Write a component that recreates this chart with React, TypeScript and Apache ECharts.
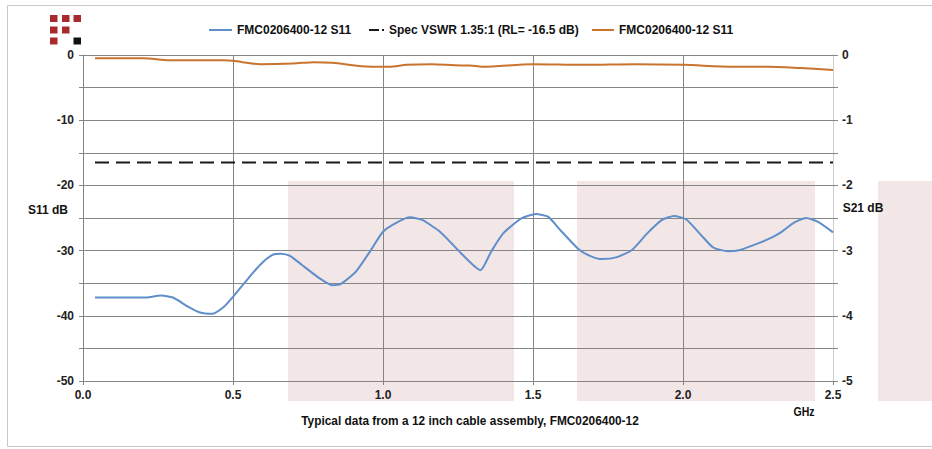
import React, { useEffect, useRef } from "react";
import * as echarts from "echarts";

const freqS11 = [0.04, 0.1, 0.21, 0.26, 0.3, 0.35, 0.39, 0.43, 0.47, 0.5, 0.55, 0.59, 0.63, 0.66, 0.69, 0.73, 0.79, 0.83, 0.86, 0.91, 0.96, 1.0, 1.05, 1.09, 1.13, 1.19, 1.26, 1.3, 1.325, 1.36, 1.4, 1.46, 1.51, 1.55, 1.59, 1.65, 1.69, 1.73, 1.78, 1.83, 1.88, 1.93, 1.97, 2.01, 2.06, 2.1, 2.15, 2.19, 2.25, 2.3, 2.33, 2.37, 2.41, 2.45, 2.5];
const s11 = [-37.2, -37.2, -37.2, -36.9, -37.2, -38.6, -39.5, -39.7, -38.6, -37.1, -34.3, -32.2, -30.7, -30.5, -30.8, -32.2, -34.3, -35.3, -35.1, -33.2, -29.9, -27.1, -25.6, -24.9, -25.3, -27.1, -30.4, -32.2, -33.0, -30.2, -27.4, -25.1, -24.4, -24.8, -26.8, -29.7, -30.8, -31.3, -31.0, -29.9, -27.4, -25.3, -24.7, -25.2, -27.6, -29.5, -30.1, -29.9, -28.9, -27.9, -27.1, -25.7, -25.0, -25.6, -27.2];

const freqS21 = [0.04, 0.2, 0.29, 0.47, 0.5, 0.59, 0.7, 0.77, 0.83, 0.96, 1.02, 1.08, 1.16, 1.26, 1.29, 1.33, 1.5, 1.67, 1.84, 2.0, 2.17, 2.28, 2.39, 2.5];
const s21 = [-0.05, -0.05, -0.08, -0.08, -0.09, -0.14, -0.13, -0.11, -0.12, -0.18, -0.18, -0.15, -0.14, -0.16, -0.16, -0.18, -0.14, -0.15, -0.14, -0.15, -0.18, -0.18, -0.2, -0.23];

const specFreq = [0.04, 2.5];
const specLevel = -16.5;

const nameS11 = "FMC0206400-12 S11";
const nameSpec = "Spec VSWR 1.35:1 (RL= -16.5 dB)";
const nameS21 = "FMC0206400-12 S11 ";

const xTicks = { min: 0, max: 2.5, interval: 0.5 };
const leftTicks = { min: -50, max: 0, interval: 5 };
const rightTicks = { min: -5, max: 0, interval: 0.5 };

const caption = "Typical data from a 12 inch cable assembly, FMC0206400-12";

const GRID = "#858585";
const BLUE = "#5f8fcb";
const ORANGE = "#c8742f";
const PINK = "#f3e6e6";
const RED = "#a82a2c";
const ARIAL = "'Liberation Sans', Arial, sans-serif";

export default function App() {
  const ref = useRef<HTMLDivElement>(null);
  useEffect(() => {
    if (!ref.current) return;
    const chart = echarts.init(ref.current, null, { renderer: "svg" });
    const legendText = { fontFamily: ARIAL, fontWeight: "bold", fontSize: 12, color: "#111" };
    const sq = (x: number, y: number, c: string) => ({
      type: "rect", shape: { x, y, width: 7.5, height: 7 }, style: { fill: c }, silent: true,
    });
    const pink = (x: number, w: number) => ({
      type: "rect", z: -10, shape: { x, y: 181, width: w, height: 220 }, style: { fill: PINK }, silent: true,
    });
    const narrowText = (x: number, y: number, text: string, size: number, sx: number) => ({
      type: "text", x, y, scaleX: sx,
      style: { text, fill: "#111", font: `bold ${size}px ${ARIAL}`, align: "center", verticalAlign: "middle" },
    });
    const hideSym = { opacity: 0 };
    const legendBase = { top: 24, padding: 0, itemHeight: 14, textStyle: legendText, itemStyle: hideSym, selectedMode: false };
    chart.setOption({
      animation: false,
      backgroundColor: "#fff",
      grid: { left: 83, right: 99, top: 55, bottom: 68, containLabel: false },
      legend: [
        { ...legendBase, left: 208, itemWidth: 23, data: [{ name: nameS11, itemStyle: hideSym, lineStyle: { width: 2 } }] },
        { ...legendBase, left: 368, itemWidth: 15, data: [{ name: nameSpec, itemStyle: hideSym, lineStyle: { type: [10, 3], width: 2 } }] },
        { ...legendBase, left: 591, itemWidth: 22, data: [{ name: nameS21, itemStyle: hideSym, lineStyle: { width: 2 } }] },
      ],
      xAxis: {
        type: "value",
        ...xTicks,
        axisLine: { show: true, onZero: false, lineStyle: { color: GRID } },
        axisTick: { show: true, length: 4, lineStyle: { color: GRID } },
        axisLabel: { margin: 8, fontFamily: ARIAL, fontWeight: "bold", fontSize: 12, color: "#222", formatter: (v: number) => v.toFixed(1) },
        splitLine: { show: true, lineStyle: { color: [GRID, GRID, GRID, GRID, GRID, "#cfcfcf"], width: 1 } },
      },
      yAxis: [
        {
          type: "value",
          ...leftTicks,
          position: "left",
          axisLine: { show: true, onZero: false, lineStyle: { color: GRID } },
          axisTick: { show: true, length: 4, lineStyle: { color: GRID } },
          axisLabel: {
            margin: 9, fontFamily: ARIAL, fontWeight: "bold", fontSize: 12, color: "#222",
            formatter: (v: number) => (Math.round(v) % 10 === 0 ? String(Math.round(v)) : ""),
          },
          splitLine: { show: true, lineStyle: { color: GRID, width: 1 } },
        },
        {
          type: "value",
          ...rightTicks,
          position: "right",
          axisLine: { show: true, onZero: false, lineStyle: { color: "#cfcfcf" } },
          axisTick: { show: true, length: 5, lineStyle: { color: GRID } },
          axisLabel: {
            margin: 9, fontFamily: ARIAL, fontWeight: "bold", fontSize: 12, color: "#222",
            formatter: (v: number) => (Math.abs(v - Math.round(v)) < 1e-6 ? String(Math.round(v)) : ""),
          },
          splitLine: { show: false },
        },
      ],
      series: [
        {
          name: nameS11, type: "line", yAxisIndex: 0, smooth: 0.2, symbol: "none",
          lineStyle: { color: BLUE, width: 2 }, itemStyle: { color: BLUE },
          data: freqS11.map((f, i) => [f, s11[i]]), z: 5,
        },
        {
          name: nameSpec, type: "line", yAxisIndex: 0, symbol: "none",
          lineStyle: { color: "#1a1a1a", width: 2, type: [14, 7] }, itemStyle: { color: "#1a1a1a" },
          data: specFreq.map((f) => [f, specLevel]), z: 4,
        },
        {
          name: nameS21, type: "line", yAxisIndex: 1, smooth: 0.3, symbol: "none",
          lineStyle: { color: ORANGE, width: 2 }, itemStyle: { color: ORANGE },
          data: freqS21.map((f, i) => [f, s21[i]]), z: 5,
        },
      ],
      graphic: [
        { type: "rect", z: -20, shape: { x: 7.5, y: 5.5, width: 940, height: 441 }, style: { fill: "none", stroke: "#c8c8c8", lineWidth: 1 }, silent: true },
        pink(288, 226),
        pink(577, 238),
        pink(878, 60),
        sq(50, 15, RED), sq(62, 15, RED), sq(73.5, 15, RED),
        sq(50, 26.5, RED), sq(62, 26.5, RED),
        sq(50, 37.5, RED), sq(73.5, 37.5, "#111"),
        { type: "text", x: 48, y: 210, style: { text: "S11 dB", fill: "#111", font: `bold 12px ${ARIAL}`, align: "center", verticalAlign: "middle" } },
        { type: "text", x: 863, y: 208, style: { text: "S21 dB", fill: "#111", font: `bold 12px ${ARIAL}`, align: "center", verticalAlign: "middle" } },
        narrowText(804, 412, "GHz", 12, 0.88),
        narrowText(470, 421, caption, 12, 0.99),
      ],
    });
    return () => chart.dispose();
  }, []);
  return <div ref={ref} style={{ position: "fixed", left: 0, top: 0, width: 932, height: 449 }} />;
}
